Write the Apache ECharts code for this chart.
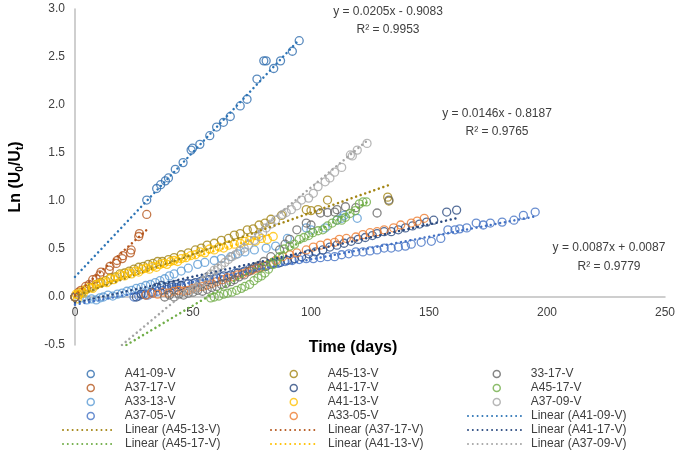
<!DOCTYPE html>
<html><head><meta charset="utf-8">
<script src="https://cdn.jsdelivr.net/npm/echarts@6/dist/echarts.min.js"></script>
<style>html,body{margin:0;padding:0;background:#fff}#c{width:685px;height:452px}</style>
</head><body><div id="c"></div>
<script>
// ---- series names / colours ----
const seriesNames = ['A41-09-V','A37-17-V','A33-13-V','A37-05-V','A45-13-V','A41-17-V','A41-13-V','A33-05-V','33-17-V','A45-17-V','A37-09-V'];
const seriesColors = ['#2F6DAE','#B5561D','#5B9BD5','#4472C4','#A38513','#2B4A80','#FFC000','#ED7D31','#676767','#70AD47','#A5A5A5'];

// ---- data: [time (days), Ln(U0/Ut)] ----
const dA4109 = [[0,0],[30.4,1.01],[34.6,1.13],[36.3,1.17],[38.3,1.21],[39.6,1.24],[42.5,1.33],[45.8,1.40],[49.2,1.53],[49.8,1.55],[52.9,1.59],[57.1,1.68],[60,1.77],[62.9,1.82],[65.8,1.88],[70,1.99],[72.9,2.06],[77.1,2.27],[80,2.46],[81,2.46],[84.2,2.38],[87.1,2.46],[92.1,2.56],[95,2.67]];
const dA3717 = [[0,0],[1.5,0.05],[2.5,0.07],[4.5,0.11],[6,0.13],[7.5,0.18],[9,0.19],[10.5,0.23],[11,0.26],[14.5,0.28],[14.8,0.32],[17.5,0.35],[17.8,0.38],[20,0.4],[20.3,0.43],[23.5,0.46],[23.8,0.49],[27,0.63],[27.3,0.66],[30.4,0.86]];
const dA3313 = [[0,0],[3,-0.01],[5,-0.03],[7,-0.02],[9,-0.03],[10.5,-0.01],[12,0.0],[14,0.02],[16,0.01],[18,0.03],[20,0.04],[22,0.06],[24,0.07],[26,0.09],[28,0.1],[30,0.12],[32,0.13],[34,0.15],[36,0.17],[38,0.19],[40,0.22],[42,0.24],[45,0.27],[48,0.3],[52,0.34],[55,0.36],[59,0.38],[62,0.4],[66,0.42],[69,0.45],[72,0.47],[76,0.49],[81,0.51],[85,0.53],[90,0.61],[98,0.72],[100,0.7],[106,0.72],[111,0.8],[113,0.82],[114,0.85],[119.6,0.82]];
const dA3705 = [[0,0],[25,0.0],[27,0.01],[29,0.03],[31,0.02],[33,0.04],[35,0.06],[37,0.07],[39,0.08],[41,0.1],[43,0.1],[45,0.12],[47,0.14],[50,0.14],[53,0.16],[56,0.18],[59,0.19],[62,0.21],[65,0.22],[68,0.25],[71,0.26],[74,0.29],[77,0.31],[80,0.32],[83,0.34],[86,0.35],[89,0.37],[92,0.38],[95,0.39],[98,0.4],[101,0.4],[104,0.41],[107,0.42],[110,0.42],[113,0.44],[116,0.45],[119,0.47],[122,0.47],[125,0.48],[128,0.49],[131,0.51],[134,0.51],[137,0.52],[140,0.53],[142.5,0.55],[146.7,0.57],[151,0.58],[155,0.61],[158,0.7],[161,0.7],[163,0.71],[166,0.72],[170,0.77],[173,0.75],[176,0.77],[181,0.78],[186,0.8],[190,0.85],[195,0.885]];
const dA4513 = [[0,0],[1.5,0.02],[3,0.05],[5,0.08],[7,0.1],[9,0.13],[11,0.15],[13,0.17],[15,0.2],[17,0.21],[19,0.24],[21,0.25],[23,0.27],[25,0.29],[27,0.31],[29,0.32],[31,0.34],[33,0.35],[35,0.37],[37,0.37],[39.6,0.39],[42,0.41],[45,0.44],[48,0.46],[51,0.49],[53.5,0.51],[56,0.54],[59,0.56],[62,0.59],[65,0.61],[67.5,0.645],[70,0.66],[73,0.7],[75.5,0.71],[78,0.75],[80.5,0.77],[83,0.81],[87.5,0.85],[98,0.91],[100,0.9],[103,0.91],[107,1.01],[132.5,1.04],[133,1.0]];
const dA4117 = [[0,0],[26,0.0],[28,0.03],[30,0.02],[32.5,0.05],[34.6,0.1],[36.7,0.12],[39,0.1],[41,0.12],[43,0.13],[45,0.12],[48,0.14],[51,0.15],[54,0.17],[57,0.18],[60,0.2],[63,0.22],[66,0.23],[69,0.25],[72,0.27],[75,0.29],[78,0.3],[81,0.32],[84,0.35],[87,0.36],[90,0.38],[93,0.4],[96,0.42],[99,0.45],[102,0.47],[105,0.49],[108,0.52],[111,0.54],[114,0.56],[117,0.58],[120,0.6],[123,0.62],[126,0.64],[128,0.66],[131,0.68],[134,0.68],[137,0.7],[140,0.72],[143,0.74],[146,0.76],[149,0.78],[152,0.8],[157.5,0.885],[161.7,0.905]];
const dA4113 = [[0,0],[0.5,0.03],[1,-0.02],[1.5,0.02],[2.5,0.05],[3.5,0.04],[4.5,0.08],[6,0.1],[7.5,0.09],[9,0.13],[10.5,0.14],[12,0.16],[13.5,0.15],[15,0.19],[16.5,0.18],[18,0.21],[19.5,0.23],[21,0.22],[22.5,0.25],[24,0.24],[25.5,0.27],[27,0.26],[28.5,0.29],[30,0.3],[31.5,0.29],[33,0.32],[34.5,0.31],[36,0.34],[37.5,0.35],[39,0.34],[40.5,0.37],[42,0.38],[43.5,0.37],[45,0.4],[47,0.41],[49,0.43],[51,0.44],[53,0.47],[55,0.46],[57,0.5],[59,0.49],[61,0.52],[63,0.51],[65,0.54],[67.5,0.55],[70,0.56],[72,0.58],[74,0.59],[76.5,0.58],[79,0.61],[81.5,0.6],[84,0.63]];
const dA3305 = [[0,0],[30,0.02],[32.5,0.04],[35,0.03],[37.5,0.05],[39.6,0.04],[42,0.06],[44,0.07],[46,0.06],[48,0.07],[50,0.09],[52,0.1],[54,0.11],[56,0.125],[58,0.14],[60,0.16],[62.5,0.18],[64.6,0.2],[67,0.21],[69,0.23],[71,0.24],[73,0.26],[75,0.28],[77,0.3],[79,0.31],[81,0.33],[83,0.35],[85,0.38],[88,0.42],[91,0.44],[94,0.46],[98,0.49],[101,0.52],[104,0.54],[107,0.56],[110,0.57],[112,0.6],[115,0.61],[119,0.625],[122,0.65],[125,0.67],[128,0.68],[131,0.7],[135,0.72],[138,0.75],[142.5,0.77],[145,0.79],[148,0.82]];
const d3317 = [[0,0],[38,0.0],[40,0.02],[42,0.0],[44,0.03],[46,0.02],[48,0.04],[50,0.05],[52,0.07],[54,0.06],[56,0.08],[58,0.1],[60,0.11],[62,0.13],[64,0.14],[66,0.16],[67.5,0.18],[69.5,0.21],[71.7,0.23],[74,0.27],[76,0.31],[78,0.33],[80,0.37],[83,0.42],[86.7,0.49],[89,0.55],[91,0.6],[94,0.7],[98,0.77],[100,0.75],[104,0.875],[107,0.88],[110,0.885],[111,0.91],[114.6,0.94],[119,0.93],[128,0.875],[133,1.01]];
const dA4517 = [[57.5,-0.01],[59,0.0],[61,0.01],[63,0.03],[64.6,0.04],[66.5,0.05],[68.5,0.07],[70.5,0.09],[72,0.11],[74,0.13],[75.8,0.17],[77.5,0.2],[79,0.22],[80.5,0.25],[82,0.29],[84,0.34],[85.5,0.37],[86.7,0.42],[88.7,0.5],[91,0.53],[93,0.55],[95,0.6],[97,0.62],[99,0.64],[100.8,0.67],[103,0.69],[105,0.7],[107,0.74],[109,0.77],[111,0.8],[113,0.8],[114.6,0.83],[116.5,0.87],[118.75,0.9],[120.5,0.97],[122,0.99],[123.5,0.99]];
const dA3709 = [[48,0.05],[50,0.08],[51.5,0.1],[53,0.14],[54.5,0.17],[56,0.21],[57.5,0.24],[59,0.28],[60.5,0.3],[62,0.33],[63.5,0.36],[65,0.39],[66.5,0.42],[68,0.44],[70,0.48],[71.7,0.51],[73.5,0.54],[76,0.59],[78,0.63],[79.5,0.67],[81,0.72],[83,0.76],[85,0.8],[88,0.86],[89.5,0.88],[91.7,0.91],[94,0.95],[96,1.01],[99,1.03],[101,1.08],[103,1.15],[106,1.2],[108,1.24],[110,1.3],[113,1.35],[116.7,1.48],[117.5,1.47],[119.6,1.53],[123.75,1.6]];
const seriesData = [dA4109,dA3717,dA3313,dA3705,dA4513,dA4117,dA4113,dA3305,d3317,dA4517,dA3709];

// ---- trendlines (end points) ----
const trendNames = ['Linear (A41-09-V)','Linear (A45-13-V)','Linear (A37-17-V)','Linear (A41-17-V)','Linear (A45-17-V)','Linear (A41-13-V)','Linear (A37-09-V)',''];
const trendColors = ['#2E75B6','#A38513','#B5561D','#2B4A80','#70AD47','#FFC000','#A5A5A5','#4472C4'];
const tA4109 = [[0,0.21],[95,2.68]];
const tA4513 = [[0,0.0087],[133,1.166]];
const tA3717 = [[0,0.02],[30.4,0.70]];
const tA4117 = [[0,-0.06],[161.7,0.82]];
const tA4517 = [[21.8,-0.5],[123.5,0.984]];
const tA4113 = [[0,0.05],[84,0.66]];
const tA3709 = [[19.9,-0.5],[123.75,1.628]];
const tA3705 = [[0,-0.08],[195,0.84]];
const trendData = [tA4109,tA4513,tA3717,tA4117,tA4517,tA4113,tA3709,tA3705];

// ---- equation labels ----
const eqTexts = ['y = 0.0205x - 0.9083\nR² = 0.9953','y = 0.0146x - 0.8187\nR² = 0.9765','y = 0.0087x + 0.0087\nR² = 0.9779'];

// ---- axes ----
const xMin = 0, xMax = 250, xStep = 50;
const yMin = -0.5, yMax = 3, yStep = 0.5;

const FONT = '"Liberation Sans", Arial, sans-serif';
const TXT = '#404040';

const series = [];
seriesNames.forEach((n,i)=>{
  series.push({type:'scatter', name:n, data:seriesData[i], symbol:'circle', symbolSize:8,
    itemStyle:{color:'rgba(0,0,0,0)', borderColor:seriesColors[i], borderWidth:1.3},
    emphasis:{disabled:true}, silent:true, z:2});
});
trendNames.forEach((n,i)=>{
  series.push({type:'line', name:n, data:trendData[i], symbol:'none', showSymbol:false,
    itemStyle:{color:trendColors[i]},
    lineStyle:{color:trendColors[i], width:2.5, type:[0.01,4.8], cap:'round'},
    emphasis:{disabled:true}, silent:true, z:3});
});

// legend layout: 3 columns x 6 rows
const legendOrder = [
  ['A41-09-V','A45-13-V','33-17-V'],
  ['A37-17-V','A41-17-V','A45-17-V'],
  ['A33-13-V','A41-13-V','A37-09-V'],
  ['A37-05-V','A33-05-V','Linear (A41-09-V)'],
  ['Linear (A45-13-V)','Linear (A37-17-V)','Linear (A41-17-V)'],
  ['Linear (A45-17-V)','Linear (A41-13-V)','Linear (A37-09-V)']
];
const colMarkerX = [90,293,496], colTextX = [124,327,530], colLineX = [[62,112],[270,316],[467,520]];
const rowY = [375,389,403,417,431,445];
const legends = [];
legendOrder.forEach((row,r)=>row.forEach((name,c)=>{
  const isLine = name.indexOf('Linear')===0;
  let left, w, gap;
  if (isLine) { left = colLineX[c][0]; w = colLineX[c][1]-colLineX[c][0]; gap = colTextX[c]-colLineX[c][1]-5; }
  else { left = colMarkerX[c]-3.5; w = 7; gap = colTextX[c]-(colMarkerX[c]+3.5)-5; }
  const lg = {show:true, data:[name], left:left, top:rowY[r]-7, padding:0, itemWidth:w, itemHeight:7,
    selectedMode:false,
    formatter: '{g| }{t|'+name+'}',
    textStyle:{rich:{g:{width:gap}, t:{fontSize:12, color:TXT, fontFamily:FONT}}}};
  lg.itemStyle = isLine ? {opacity:0, borderWidth:0} : {borderWidth:1.5};
  legends.push(lg);
}));

const option = {
  animation:false,
  backgroundColor:'#ffffff',
  textStyle:{fontFamily:FONT},
  grid:{left:65, right:20, top:9, bottom:107, containLabel:false},
  xAxis:{type:'value', min:xMin, max:xMax, interval:xStep, offset:-48,
    name:'Time (days)', nameLocation:'middle', nameGap:43,
    nameTextStyle:{fontSize:16, fontWeight:'bold', color:'#000', fontFamily:FONT, padding:[0,34,0,0]},
    axisLine:{onZero:false, lineStyle:{color:'#BFBFBF', width:1.5}},
    axisTick:{show:false}, splitLine:{show:false},
    axisLabel:{fontSize:12, color:TXT, margin:10, fontFamily:FONT}},
  yAxis:{type:'value', min:yMin, max:yMax, interval:yStep,
    name:'{a|Ln (U}{s|0}{a|/U}{s|t}{a|)}', nameLocation:'middle', nameGap:50, nameRotate:90,
    nameTextStyle:{rich:{a:{fontSize:16, fontWeight:'bold', color:'#000', fontFamily:FONT},
                         s:{fontSize:10, fontWeight:'bold', color:'#000', fontFamily:FONT, padding:[8,0,0,0]}}},
    axisLine:{show:true, onZero:false, lineStyle:{color:'#BFBFBF', width:1.5}},
    axisTick:{show:false}, splitLine:{show:false},
    axisLabel:{fontSize:12, color:TXT, margin:10, fontFamily:FONT, formatter:v=>v.toFixed(1)}},
  legend:legends,
  graphic:[
    {type:'text', x:388, y:3, style:{text:eqTexts[0], font:'12px '+FONT, fill:TXT, align:'center', lineHeight:18}},
    {type:'text', x:497, y:105, style:{text:eqTexts[1], font:'12px '+FONT, fill:TXT, align:'center', lineHeight:18}},
    {type:'text', x:609, y:238, style:{text:eqTexts[2], font:'12px '+FONT, fill:TXT, align:'center', lineHeight:19}}
  ],
  series:series
};
const chart = echarts.init(document.getElementById('c'), null, {renderer:'canvas'});
chart.setOption(option);
</script>
</body></html>
